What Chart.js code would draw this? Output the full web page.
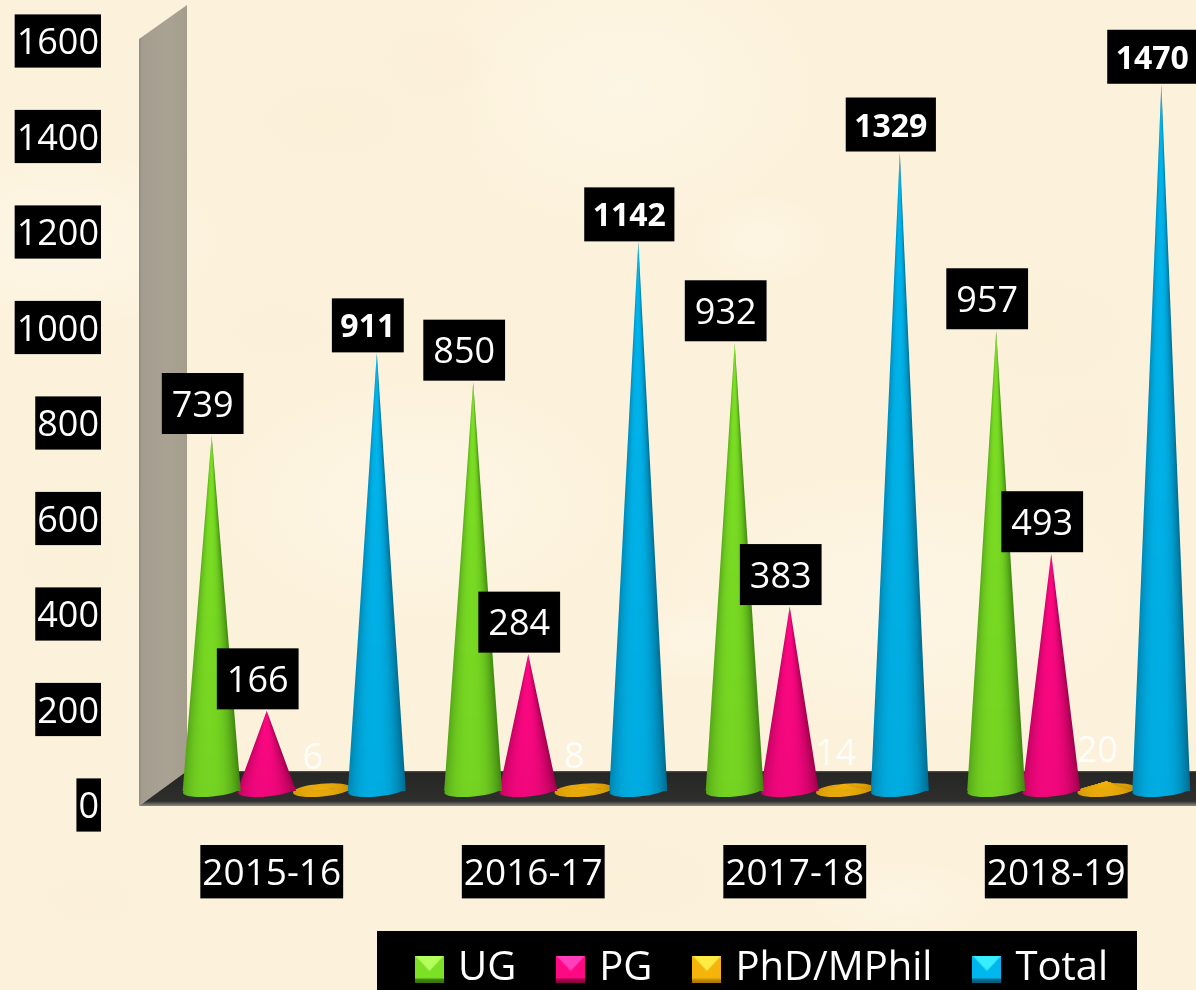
<!DOCTYPE html>
<html><head><meta charset="utf-8">
<script src="https://cdn.jsdelivr.net/npm/chart.js@4/dist/chart.umd.js"></script>
<style>
html,body{margin:0;padding:0;width:1196px;height:990px;overflow:hidden;background-color:#fcf2dc;
background-image:
radial-gradient(ellipse 60px 40px at 440px 60px,rgba(247,232,204,.25),transparent),
radial-gradient(ellipse 70px 45px at 760px 240px,rgba(255,250,240,.35),transparent),
radial-gradient(ellipse 60px 50px at 1090px 440px,rgba(247,232,204,.25),transparent),
radial-gradient(ellipse 80px 40px at 280px 330px,rgba(248,234,206,.25),transparent),
radial-gradient(ellipse 60px 40px at 690px 640px,rgba(255,250,240,.35),transparent),
radial-gradient(ellipse 70px 40px at 90px 900px,rgba(248,233,205,.25),transparent),
radial-gradient(ellipse 90px 40px at 900px 900px,rgba(255,250,240,.3),transparent),
radial-gradient(ellipse 160px 90px at 60px 240px,rgba(255,250,238,.6),transparent),
radial-gradient(ellipse 220px 120px at 330px 120px,rgba(250,236,208,.3),transparent),
radial-gradient(ellipse 200px 140px at 620px 90px,rgba(255,249,236,.5),transparent),
radial-gradient(ellipse 180px 120px at 1050px 330px,rgba(250,237,210,.35),transparent),
radial-gradient(ellipse 240px 130px at 900px 600px,rgba(255,249,236,.5),transparent),
radial-gradient(ellipse 220px 100px at 620px 880px,rgba(250,237,210,.35),transparent),
radial-gradient(ellipse 160px 120px at 70px 560px,rgba(250,236,208,.3),transparent),
radial-gradient(ellipse 200px 120px at 420px 500px,rgba(255,250,238,.5),transparent);}
canvas{display:block}
</style></head><body>
<canvas id="c" width="1196" height="990"></canvas>
<script>
const categories = ['2015-16','2016-17','2017-18','2018-19'];
const ugValues = [739,850,932,957];
const pgValues = [166,284,383,493];
const phdValues = [6,8,14,20];
const totalValues = [911,1142,1329,1470];
const seriesNames = ['UG','PG','PhD/MPhil','Total'];
const seriesColors = ['#6cc91f','#f00a7c','#e8a608','#00a8dc'];

const FONT = '"Open Sans"';
// shading ramps for each cone: edge, middle
const ramps = [[[66,140,18],[124,224,36]],[[165,0,78],[255,8,132]],[[205,145,0],[245,180,12]],[[0,112,150],[0,182,238]]];
// 3D projection of the plot box
const DEPTH_X = 22.5, BASE_UP = 1, TILT = -0.09, RY = 6.5, FADE = 0.05;

function cone(ctx, cx, tipY, baseY, halfW, ramp){
  const cy = baseY - BASE_UP;
  const shade = u => { const k = Math.max(0, 1 - Math.pow(Math.abs(u + 0.1)/1.1, 2.6));
    const c = ramp[0].map((e,i)=>Math.round(e + (ramp[1][i]-e)*k)); return `rgb(${c[0]},${c[1]},${c[2]})`; };
  const stops = [0,.06,.12,.2,.3,.45,.6,.72,.82,.9,.95,1];
  const g = ctx.createLinearGradient(cx-halfW,0,cx+halfW,0);
  stops.forEach(s=>g.addColorStop(s,shade(s*2-1)));
  ctx.fillStyle = g;
  ctx.beginPath(); ctx.ellipse(cx,cy,halfW,RY,TILT,0,Math.PI*2); ctx.fill();
  ctx.fillStyle = `rgba(0,0,0,${FADE})`; ctx.fill();
  // the body: one row per pixel, the shading narrows to the tip
  const unit = ctx.createLinearGradient(-1,0,1,0);
  stops.forEach(s=>unit.addColorStop(s,shade(s*2-1)));
  const top = Math.floor(tipY);
  for(let y=top;y<cy;y++){
    const f = (y+1-tipY)/(cy-tipY), hw = halfW*f;
    if(hw<=0) continue;
    ctx.save(); ctx.translate(cx,0); ctx.scale(hw,1);
    ctx.fillStyle = unit; ctx.fillRect(-1,y,2,1);
    ctx.fillStyle = `rgba(0,0,0,${FADE*f})`; ctx.fillRect(-1,y,2,1);
    ctx.restore();
  }
}

const scenePlugin = {
  id:'scene',
  beforeLayout(chart){
    const l = chart.legend;
    if(l && !l._wrapped){ const f = l.fit; l.fit = function(){ f.call(this); this.height = 59; }; l._wrapped = true; }
  },
  afterLayout(chart){
    const l = chart.legend, o = l.options.labels;
    l.left = 421 - o.padding; l.right = 1400; l.width = l.right - l.left;
    l.top = 973 - o.padding - o.font.size*0.6;
  },
  beforeDraw(chart){
    const {ctx, chartArea:a} = chart;
    ctx.save();
    // side wall
    const wx0 = a.left-2, wx1 = a.left+46;
    const wg = ctx.createLinearGradient(wx0,0,wx1,0);
    wg.addColorStop(0,'#8f8b84'); wg.addColorStop(.06,'#a49d8f'); wg.addColorStop(.6,'#aaa394'); wg.addColorStop(1,'#a59d8c');
    ctx.fillStyle = wg;
    ctx.beginPath(); ctx.moveTo(wx0,a.top-3); ctx.lineTo(wx1,a.top-37); ctx.lineTo(wx1,a.bottom-35); ctx.lineTo(wx0,a.bottom); ctx.closePath(); ctx.fill();
    // floor
    const fg = ctx.createLinearGradient(0,a.bottom-35,0,a.bottom);
    fg.addColorStop(0,'#5a5a58'); fg.addColorStop(.05,'#262625'); fg.addColorStop(.86,'#2e2e2d'); fg.addColorStop(.92,'#555553'); fg.addColorStop(1,'#8a8a86');
    ctx.fillStyle = fg;
    ctx.beginPath(); ctx.moveTo(a.left-2,a.bottom); ctx.lineTo(a.left+46,a.bottom-35); ctx.lineTo(chart.width,a.bottom-35); ctx.lineTo(chart.width,a.bottom); ctx.closePath(); ctx.fill();
    // legend panel
    ctx.fillStyle = '#000'; ctx.fillRect(377,a.bottom+125,760,59);
    ctx.restore();
  },
  beforeDatasetDraw(){ return false; },
  afterDatasetsDraw(chart){
    const ctx = chart.ctx;
    ctx.save();
    [2,3,1,0].forEach(ds=>{
      chart.getDatasetMeta(ds).data.forEach(el=>{
        cone(ctx, el.x+DEPTH_X, el.y, el.base, el.width/2, ramps[ds]);
      });
    });
    // value labels
    ctx.textAlign='center'; ctx.textBaseline='middle';
    chart.data.datasets.forEach((d,ds)=>{
      chart.getDatasetMeta(ds).data.forEach((el,i)=>{
        const bold = ds===3, plain = ds===2, txt = String(d.data[i]);
        ctx.font = (bold?'bold 32px ':'36px ')+FONT;
        const h = bold?54:61, w = ctx.measureText(txt).width + (bold?17:20);
        const cx = el.x+DEPTH_X-9, bottom = el.y-(bold?1:2);
        if(!plain){ ctx.fillStyle='#000'; ctx.fillRect(cx-w/2,bottom-h,w,h); }
        ctx.fillStyle = plain?'rgba(255,255,255,.82)':'#fff';
        ctx.fillText(txt,cx,bottom-h/2+3);
      });
    });
    ctx.restore();
  }
};

function icon(ramp){
  const c = document.createElement('canvas'); c.width=29; c.height=27;
  const x = c.getContext('2d'), W=29, H=27, rgb=a=>`rgb(${a.join(',')})`;
  const lite = ramp[1].map(v=>Math.min(255,v+55));
  x.fillStyle = rgb(ramp[1]); x.fillRect(0,0,W,H);
  x.fillStyle = rgb(lite); x.beginPath(); x.moveTo(0,0); x.lineTo(W,0); x.lineTo(W/2,H/2+2); x.closePath(); x.fill();
  x.fillStyle = rgb(ramp[0]); x.fillRect(0,H-4,W,4);
  x.fillStyle = rgb(ramp[0].map(v=>Math.round(v*.85))); x.fillRect(0,H-2,W,2);
  return c;
}
const icons = ramps.map(icon);

new Chart(document.getElementById('c'),{
  type:'bar',
  data:{labels:categories,datasets:[
    {label:seriesNames[0],data:ugValues,backgroundColor:seriesColors[0],yAxisID:'yData'},
    {label:seriesNames[1],data:pgValues,backgroundColor:seriesColors[1],yAxisID:'yData'},
    {label:seriesNames[2],data:phdValues,backgroundColor:seriesColors[2],yAxisID:'yData'},
    {label:seriesNames[3],data:totalValues,backgroundColor:seriesColors[3],yAxisID:'yData'}
  ]},
  options:{
    responsive:false,animation:false,
    layout:{padding:{top:42,right:9,left:0,bottom:0}},
    datasets:{bar:{barPercentage:1.05,categoryPercentage:.842}},
    scales:{
      x:{grid:{display:false,drawTicks:false},border:{display:false},
        afterFit(s){s.height=125;s.paddingLeft=0;s.paddingRight=0;},
        ticks:{color:'#fff',font:{family:FONT,size:37},padding:46,maxRotation:0,autoSkip:false,
          showLabelBackdrop:true,backdropColor:'#000',backdropPadding:{left:2,right:2,top:7,bottom:2}}},
      y:{position:'left',min:0,max:1600,grid:{display:false,drawTicks:false},border:{display:false},
        afterFit(s){s.width=141;s.paddingTop=0;s.paddingBottom=0;},
        ticks:{stepSize:200,color:'#fff',font:{family:FONT,size:36},padding:42,labelOffset:2,callback:v=>String(v),
          showLabelBackdrop:true,backdropColor:'#000',backdropPadding:{left:2,right:2,top:8,bottom:2}}},
      yData:{display:false,position:'left',min:-31,max:1559}
    },
    plugins:{
      tooltip:{enabled:false},
      legend:{position:'bottom',align:'start',labels:{color:'#fff',font:{family:FONT,size:40},usePointStyle:true,pointStyleWidth:17,padding:46,
        generateLabels(chart){return chart.data.datasets.map((d,i)=>({text:d.label,pointStyle:icons[i],datasetIndex:i,fontColor:'#fff',lineWidth:0,strokeStyle:'transparent',fillStyle:d.backgroundColor,hidden:false}));}
      }}
    }
  },
  plugins:[scenePlugin]
});
</script>
</body></html>
